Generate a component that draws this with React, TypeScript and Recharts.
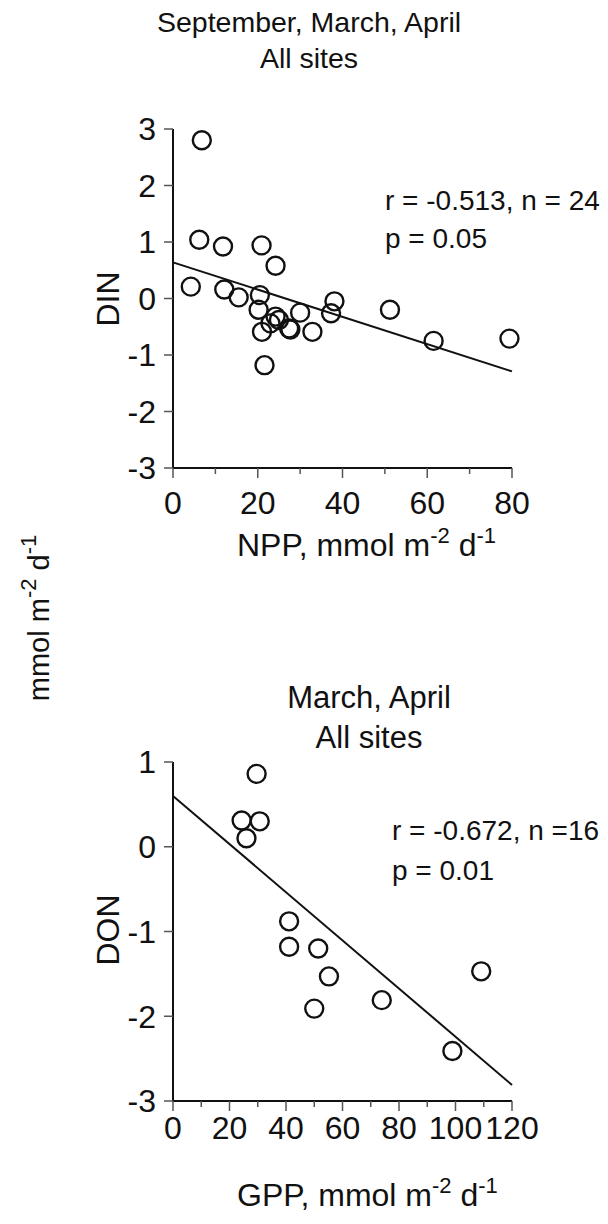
import React from "react";
import {
  ScatterChart,
  Scatter,
  XAxis,
  YAxis,
  ReferenceLine
} from "recharts";

// top panel: DIN vs NPP (September, March, April)
const nppValues = [6.8, 6.2, 11.8, 20.9, 24.2, 4.2, 12.1, 15.5, 20.5, 20.2, 24.2, 23.0, 30.0, 38.1, 37.3, 51.2, 61.5, 79.4, 21.0, 27.4, 32.9, 21.6, 25.0, 27.7];
const dinValues = [2.8, 1.04, 0.92, 0.94, 0.58, 0.21, 0.16, 0.02, 0.06, -0.2, -0.32, -0.44, -0.25, -0.05, -0.26, -0.2, -0.75, -0.71, -0.59, -0.53, -0.59, -1.18, -0.38, -0.55];
const dinFitX = [0, 80];
const dinFitY = [0.64, -1.29];
const nppTicks = [0, 10, 20, 30, 40, 50, 60, 70, 80];
const dinTicks = [-3, -2, -1, 0, 1, 2, 3];

// bottom panel: DON vs GPP (March, April)
const gppValues = [29.6, 24.3, 30.7, 26.0, 41.1, 41.1, 51.4, 55.2, 50.0, 73.9, 98.9, 109.1];
const donValues = [0.86, 0.31, 0.3, 0.1, -0.88, -1.18, -1.2, -1.53, -1.91, -1.81, -2.41, -1.47];
const donFitX = [0, 120];
const donFitY = [0.6, -2.81];
const gppTicks = [0, 10, 20, 30, 40, 50, 60, 70, 80, 90, 100, 110, 120];
const donTicks = [-3, -2, -1, 0, 1];

const FONT = "'Liberation Sans', Arial, Helvetica, sans-serif";
const INK = "#111";
const TICK_FONT = 32;

const Circle = (props: any) => (
  <circle cx={props.cx} cy={props.cy} r={9} fill="none" stroke={INK} strokeWidth={2.4} />
);

const makeXTick = (labelDy: number) => (props: any) => {
  const { x, y, payload } = props;
  const major = payload.value % 20 === 0;
  return (
    <g>
      <line x1={x} y1={y} x2={x} y2={y + (major ? 10 : 6)} stroke="#555" strokeWidth={1.5} />
      {major && (
        <text x={x} y={y + labelDy} textAnchor="middle" fontSize={TICK_FONT} fill={INK} fontFamily={FONT}>
          {payload.value}
        </text>
      )}
    </g>
  );
};

interface PanelProps {
  top: number;
  height: number;
  marginTop: number;
  xAxisHeight: number;
  xs: number[];
  ys: number[];
  fitX: number[];
  fitY: number[];
  xTicks: number[];
  yTicks: number[];
  labelDy: number;
}

const Panel: React.FC<PanelProps> = (p) => {
  const data = p.xs.map((x, i) => ({ x, y: p.ys[i] }));
  const xMax = p.xTicks[p.xTicks.length - 1];
  const yMin = p.yTicks[0];
  const yMax = p.yTicks[p.yTicks.length - 1];
  return (
    <div style={{ position: "absolute", left: 0, top: p.top }}>
      <ScatterChart
        width={608}
        height={p.height}
        margin={{ top: p.marginTop, right: 96, bottom: 0, left: 0 }}
      >
        <XAxis
          type="number"
          dataKey="x"
          domain={[0, xMax]}
          ticks={p.xTicks}
          interval={0}
          height={p.xAxisHeight}
          tickSize={0}
          tickMargin={0}
          axisLine={{ stroke: INK, strokeWidth: 2 }}
          tick={makeXTick(p.labelDy)}
        />
        <YAxis
          type="number"
          dataKey="y"
          domain={[yMin, yMax]}
          ticks={p.yTicks}
          interval={0}
          width={173}
          tickSize={9}
          tickMargin={8}
          axisLine={{ stroke: INK, strokeWidth: 2 }}
          tickLine={{ stroke: "#555", strokeWidth: 1.5 }}
          tick={{ fontSize: TICK_FONT, fill: INK, fontFamily: FONT }}
        />
        <ReferenceLine
          segment={[
            { x: p.fitX[0], y: p.fitY[0] },
            { x: p.fitX[1], y: p.fitY[1] }
          ]}
          stroke={INK}
          strokeWidth={2}
        />
        <Scatter data={data} shape={Circle} isAnimationActive={false} />
      </ScatterChart>
    </div>
  );
};

const Sup: React.FC<{ children: React.ReactNode }> = ({ children }) => (
  <tspan dy={-13} fontSize={22}>{children}</tspan>
);

const App: React.FC = () => {
  return (
    <div
      style={{
        position: "absolute",
        left: 0,
        top: 0,
        width: 608,
        height: 1224,
        background: "#fff",
        fontFamily: FONT
      }}
    >
      <Panel
        top={0}
        height={600}
        marginTop={129}
        xAxisHeight={132}
        xs={nppValues}
        ys={dinValues}
        fitX={dinFitX}
        fitY={dinFitY}
        xTicks={nppTicks}
        yTicks={dinTicks}
        labelDy={46}
      />
      <Panel
        top={612}
        height={612}
        marginTop={150}
        xAxisHeight={123}
        xs={gppValues}
        ys={donValues}
        fitX={donFitX}
        fitY={donFitY}
        xTicks={gppTicks}
        yTicks={donTicks}
        labelDy={38}
      />
      <svg
        width={608}
        height={1224}
        style={{ position: "absolute", left: 0, top: 0, pointerEvents: "none" }}
        fontFamily={FONT}
        fill={INK}
      >
        <text x={309} y={32} fontSize={28.5} textAnchor="middle">September, March, April</text>
        <text x={309} y={68} fontSize={28.5} textAnchor="middle">All sites</text>
        <text x={385} y={210} fontSize={28}>r = -0.513, n = 24</text>
        <text x={385} y={248} fontSize={28}>p = 0.05</text>
        <text x={119} y={299} fontSize={32} textAnchor="middle" transform="rotate(-90 119 299)">DIN</text>
        <text x={237} y={556} fontSize={32}>
          NPP, mmol m<Sup>-2</Sup><tspan dy={13}> d</tspan><Sup>-1</Sup>
        </text>

        <text x={49} y={618} fontSize={29} textAnchor="middle" transform="rotate(-90 49 618)">
          mmol m<Sup>-2</Sup><tspan dy={13}> d</tspan><Sup>-1</Sup>
        </text>

        <text x={369} y={708} fontSize={31} textAnchor="middle">March, April</text>
        <text x={369} y={748} fontSize={31} textAnchor="middle">All sites</text>
        <text x={392} y={840} fontSize={28}>r = -0.672, n =16</text>
        <text x={392} y={880} fontSize={28}>p = 0.01</text>
        <text x={119} y={930} fontSize={32} textAnchor="middle" transform="rotate(-90 119 930)">DON</text>
        <text x={237} y={1206} fontSize={32}>
          GPP, mmol m<Sup>-2</Sup><tspan dy={13}> d</tspan><Sup>-1</Sup>
        </text>
      </svg>
    </div>
  );
};

export default App;
